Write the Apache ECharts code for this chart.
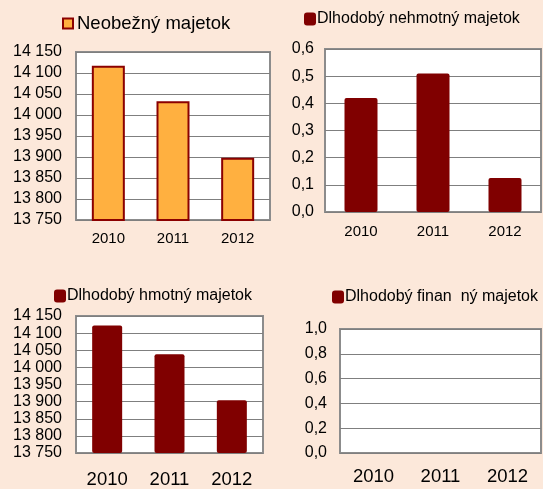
<!DOCTYPE html>
<html>
<head>
<meta charset="utf-8">
<script src="https://cdn.jsdelivr.net/npm/echarts@6/dist/echarts.min.js"></script>
<style>
  html, body { margin: 0; padding: 0; background: #fce8da; }
  #c { width: 543px; height: 489px; }
</style>
</head>
<body>
<div id="c"></div>
<script>
const years = ["2010", "2011", "2012"]
const obezny = [14117, 14033, 13898]
const nehmotny = [0.42, 0.51, 0.125]
const hmotny = [14122, 14038, 13904]
const financny = [0, 0, 0]

const names = ["Neobežný majetok", "Dlhodobý nehmotný majetok", "Dlhodobý hmotný majetok", "Dlhodobý finan  ný majetok"]
const bigAxis = [13750, 14150, 50]
const smallAxis = [0, 0.6, 0.1]
const unitAxis = [0, 1, 0.2]

const FONT = "Liberation Sans"
const fmtBig = v => String(v).replace(/\B(?=(\d{3})+(?!\d))/g, " ")
const fmtDec = v => v.toFixed(1).replace(".", ",")

const grids = [
    { left: 76, top: 52, width: 194, height: 168 },
    { left: 325, top: 49, width: 216, height: 163 },
    { left: 76, top: 316, width: 187, height: 143 },
    { left: 340, top: 329, width: 201, height: 124 }
]
// legend: left, top, icon w, icon h, font size, text shift
const legends = [[62, 14, 10, 10, 18.5, -1], [304, 11, 12, 13, 16, -4], [54, 288, 12, 13, 16, -4], [332, 289, 12, 13, 16, -4]]

const opt = {
    backgroundColor: "#fce8da",
    textStyle: { fontFamily: FONT },
    grid: grids.map(g => Object.assign({ show: true, backgroundColor: "#fff", borderColor: "#8c8c8c", borderWidth: 2 }, g)),
    legend: legends.map((l, i) => ({
        left: l[0], top: l[1], padding: 0, itemWidth: l[2], itemHeight: l[3],
        icon: i === 0 ? "rect" : "roundRect",
        textStyle: { fontSize: l[4], color: "#000", fontFamily: FONT, padding: [0, 0, 0, l[5]] },
        data: [names[i]]
    })),
    xAxis: [11, 12, 17, 14].map((m, i) => ({
        type: "category", gridIndex: i, data: years,
        axisLine: { show: false }, axisTick: { show: false },
        axisLabel: { color: "#000", fontSize: i < 2 ? 15 : 18.5, margin: m, fontFamily: FONT }
    })),
    yAxis: [bigAxis, smallAxis, bigAxis, unitAxis].map((a, i) => ({
        type: "value", gridIndex: i, min: a[0], max: a[1], interval: a[2],
        axisLine: { show: false }, axisTick: { show: false },
        splitLine: { lineStyle: { color: "#7f7f7f", width: 1 } },
        axisLabel: { color: "#000", fontSize: 16, margin: [14, 11, 14, 13][i], fontFamily: FONT,
            formatter: a[2] < 1 ? fmtDec : fmtBig }
    })),
    series: [
        { name: names[0], type: "bar", xAxisIndex: 0, yAxisIndex: 0, data: obezny, barWidth: 33,
          itemStyle: { color: "#ffb040", borderColor: "#8b0000", borderWidth: 2 } },
        { name: names[1], type: "bar", xAxisIndex: 1, yAxisIndex: 1, data: nehmotny, barWidth: 33,
          itemStyle: { color: "#800000", borderRadius: 2 } },
        { name: names[2], type: "bar", xAxisIndex: 2, yAxisIndex: 2, data: hmotny, barWidth: 30,
          itemStyle: { color: "#800000", borderRadius: 2 } },
        { name: names[3], type: "bar", xAxisIndex: 3, yAxisIndex: 3, data: financny, barWidth: 30,
          itemStyle: { color: "#800000", borderRadius: 2 } }
    ]
}

echarts.init(document.getElementById("c")).setOption(opt)
</script>
</body>
</html>
